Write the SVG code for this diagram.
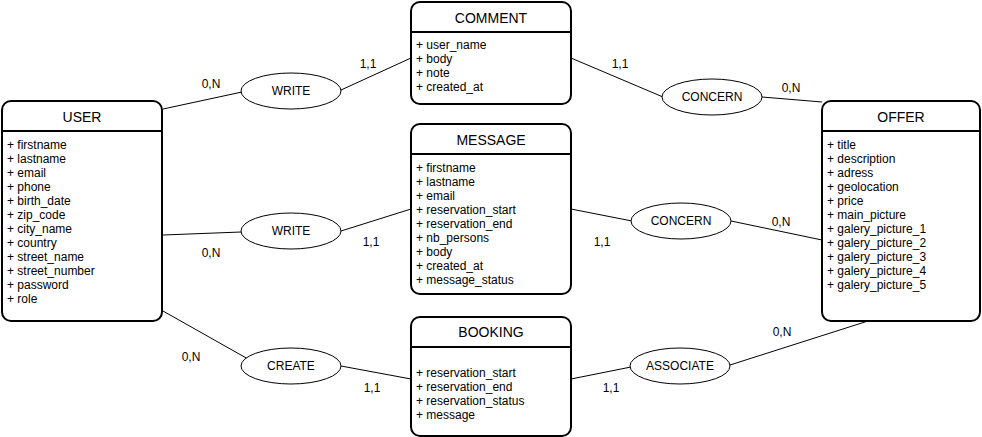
<svg xmlns="http://www.w3.org/2000/svg" width="982" height="437" viewBox="0 0 982 437">
<style>
.box{fill:#fff;stroke:#000;stroke-width:2}
.hdr{stroke:#000;stroke-width:2}
.ell{fill:#fff;stroke:#000;stroke-width:1}
.ln{stroke:#000;stroke-width:1;fill:none}
text{font-family:"Liberation Sans",Arial,Helvetica,sans-serif;fill:#000}
.t{font-size:14px;text-anchor:middle}
.a{font-size:12px}
.e{font-size:12px;text-anchor:middle}
.c{font-size:12px;text-anchor:middle}
</style>
<rect width="982" height="437" fill="#fff"/>
<g id="connectors">
<line class="ln" x1="163" y1="109" x2="242" y2="92"/>
<line class="ln" x1="341" y1="90" x2="411" y2="58"/>
<line class="ln" x1="571" y1="58" x2="663" y2="97"/>
<line class="ln" x1="762" y1="97" x2="822" y2="102"/>
<line class="ln" x1="163" y1="235" x2="241" y2="232"/>
<line class="ln" x1="341" y1="231" x2="411" y2="209"/>
<line class="ln" x1="571" y1="209" x2="632" y2="221"/>
<line class="ln" x1="731" y1="221" x2="822" y2="240"/>
<line class="ln" x1="163" y1="311" x2="248" y2="359"/>
<line class="ln" x1="341" y1="366" x2="411" y2="379"/>
<line class="ln" x1="571" y1="379" x2="631" y2="367"/>
<line class="ln" x1="730" y1="365" x2="868" y2="321"/>
</g>
<g id="labels">
<text class="c" x="211" y="88">0,N</text>
<text class="c" x="368" y="68">1,1</text>
<text class="c" x="620" y="68">1,1</text>
<text class="c" x="791" y="92">0,N</text>
<text class="c" x="211" y="257">0,N</text>
<text class="c" x="371" y="246">1,1</text>
<text class="c" x="602" y="246">1,1</text>
<text class="c" x="781" y="226">0,N</text>
<text class="c" x="191" y="361">0,N</text>
<text class="c" x="372" y="392">1,1</text>
<text class="c" x="611" y="392">1,1</text>
<text class="c" x="782" y="336">0,N</text>
</g>
<g id="USER">
<rect class="box" x="2" y="101" width="160" height="220" rx="9"/>
<line class="hdr" x1="2" y1="131" x2="162" y2="131"/>
<text class="t" x="82" y="122">USER</text>
<text class="a" x="7" y="149">+ firstname</text>
<text class="a" x="7" y="163">+ lastname</text>
<text class="a" x="7" y="177">+ email</text>
<text class="a" x="7" y="191">+ phone</text>
<text class="a" x="7" y="205">+ birth_date</text>
<text class="a" x="7" y="219">+ zip_code</text>
<text class="a" x="7" y="233">+ city_name</text>
<text class="a" x="7" y="247">+ country</text>
<text class="a" x="7" y="261">+ street_name</text>
<text class="a" x="7" y="275">+ street_number</text>
<text class="a" x="7" y="289">+ password</text>
<text class="a" x="7" y="303">+ role</text>
</g>
<g id="COMMENT">
<rect class="box" x="411" y="2" width="160" height="102" rx="9"/>
<line class="hdr" x1="411" y1="32" x2="571" y2="32"/>
<text class="t" x="491" y="23">COMMENT</text>
<text class="a" x="416" y="49">+ user_name</text>
<text class="a" x="416" y="63">+ body</text>
<text class="a" x="416" y="77">+ note</text>
<text class="a" x="416" y="91">+ created_at</text>
</g>
<g id="MESSAGE">
<rect class="box" x="411" y="124" width="160" height="170" rx="9"/>
<line class="hdr" x1="411" y1="154" x2="571" y2="154"/>
<text class="t" x="491" y="145">MESSAGE</text>
<text class="a" x="416" y="172">+ firstname</text>
<text class="a" x="416" y="186">+ lastname</text>
<text class="a" x="416" y="200">+ email</text>
<text class="a" x="416" y="214">+ reservation_start</text>
<text class="a" x="416" y="228">+ reservation_end</text>
<text class="a" x="416" y="242">+ nb_persons</text>
<text class="a" x="416" y="256">+ body</text>
<text class="a" x="416" y="270">+ created_at</text>
<text class="a" x="416" y="284">+ message_status</text>
</g>
<g id="BOOKING">
<rect class="box" x="411" y="317" width="160" height="119" rx="9"/>
<line class="hdr" x1="411" y1="347" x2="571" y2="347"/>
<text class="t" x="491" y="337">BOOKING</text>
<text class="a" x="416" y="377">+ reservation_start</text>
<text class="a" x="416" y="391">+ reservation_end</text>
<text class="a" x="416" y="405">+ reservation_status</text>
<text class="a" x="416" y="419">+ message</text>
</g>
<g id="OFFER">
<rect class="box" x="822" y="101" width="158" height="220" rx="9"/>
<line class="hdr" x1="822" y1="131" x2="980" y2="131"/>
<text class="t" x="901" y="122">OFFER</text>
<text class="a" x="827" y="149">+ title</text>
<text class="a" x="827" y="163">+ description</text>
<text class="a" x="827" y="177">+ adress</text>
<text class="a" x="827" y="191">+ geolocation</text>
<text class="a" x="827" y="205">+ price</text>
<text class="a" x="827" y="219">+ main_picture</text>
<text class="a" x="827" y="233">+ galery_picture_1</text>
<text class="a" x="827" y="247">+ galery_picture_2</text>
<text class="a" x="827" y="261">+ galery_picture_3</text>
<text class="a" x="827" y="275">+ galery_picture_4</text>
<text class="a" x="827" y="289">+ galery_picture_5</text>
</g>
<g id="WRITE1">
<ellipse class="ell" cx="291" cy="91" rx="50" ry="18"/>
<text class="e" x="291" y="95">WRITE</text>
</g>
<g id="CONCERN1">
<ellipse class="ell" cx="712" cy="97" rx="50" ry="18"/>
<text class="e" x="712" y="101">CONCERN</text>
</g>
<g id="WRITE2">
<ellipse class="ell" cx="291" cy="231" rx="50" ry="18"/>
<text class="e" x="291" y="235">WRITE</text>
</g>
<g id="CONCERN2">
<ellipse class="ell" cx="681" cy="221" rx="50" ry="18"/>
<text class="e" x="681" y="225">CONCERN</text>
</g>
<g id="CREATE">
<ellipse class="ell" cx="291" cy="366" rx="50" ry="18"/>
<text class="e" x="291" y="370">CREATE</text>
</g>
<g id="ASSOCIATE">
<ellipse class="ell" cx="680" cy="366" rx="50" ry="18"/>
<text class="e" x="680" y="370">ASSOCIATE</text>
</g>
</svg>
